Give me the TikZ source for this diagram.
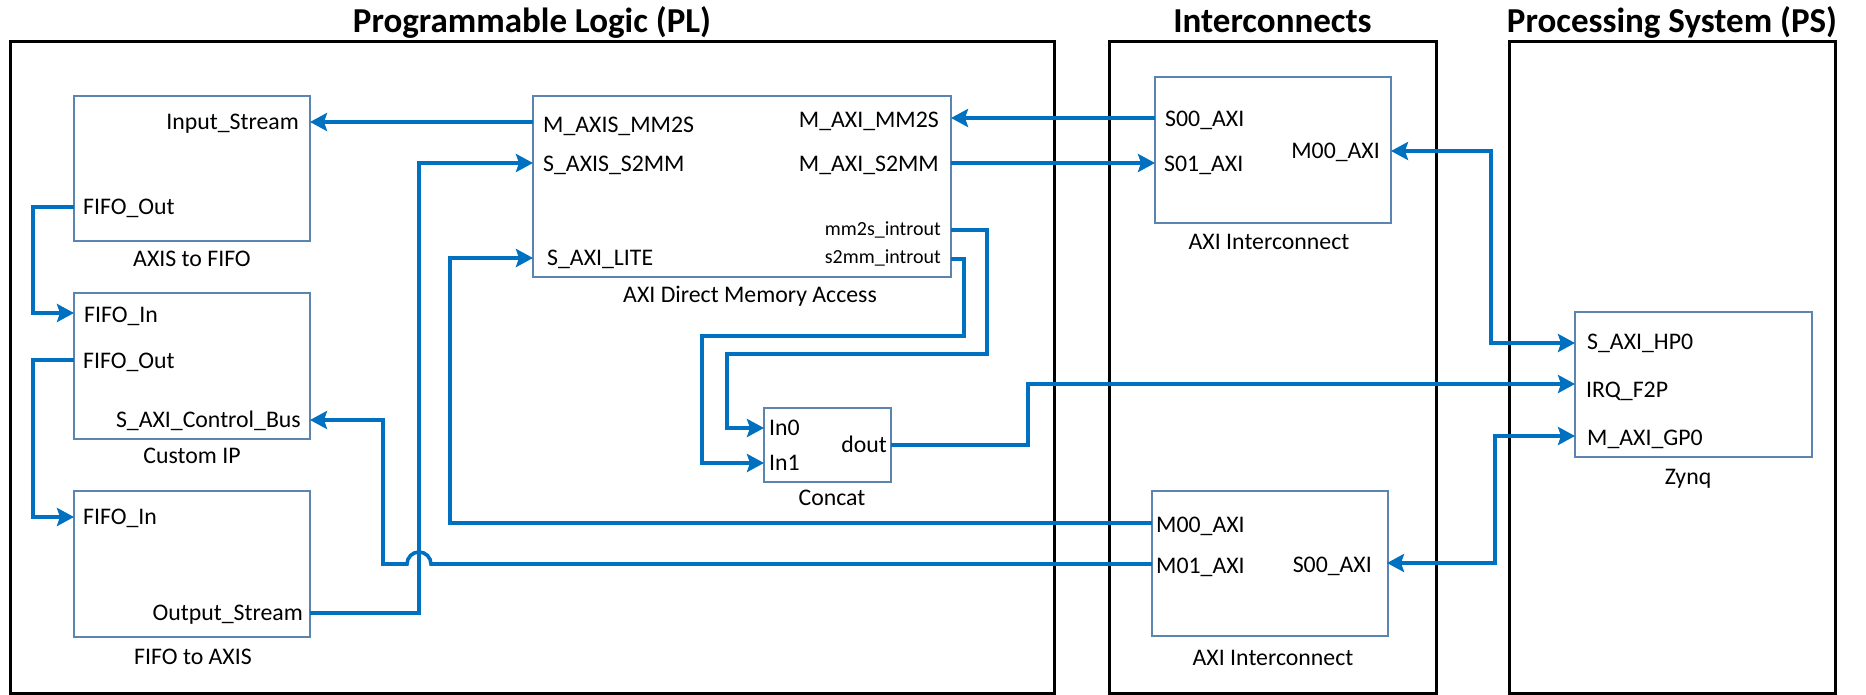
\documentclass[tikz,border=0pt]{standalone}
\usepackage{fontspec}
\setmainfont{Carlito}
\usetikzlibrary{arrows.meta}
\definecolor{wireblue}{HTML}{0070C0}
\definecolor{blockedge}{HTML}{5B84B1}

\begin{document}
\begin{tikzpicture}[x=1pt,y=-1pt,
  regionbox/.style={draw=black,line width=3pt,inner sep=0pt,outer sep=0pt,anchor=north west},
  regiontitle/.style={font=\fontsize{35}{40}\selectfont\bfseries,anchor=base,inner sep=0pt},
  blockbox/.style={draw=blockedge,line width=1.6pt,fill=white,inner sep=0pt,outer sep=0pt,anchor=north west},
  blockcap/.style={font=\fontsize{23.8}{28}\selectfont,anchor=base,inner sep=0pt},
  portleft/.style={font=\fontsize{23.8}{28}\selectfont,anchor=west,inner sep=0pt,text height=15.3pt,text depth=0pt},
  portright/.style={portleft,anchor=east},
  portsmall/.style={portright,font=\fontsize{20}{24}\selectfont,text height=12.9pt},
  wireline/.style={draw=wireblue,line width=3.6pt},
  wirearrow/.style={-{Stealth[length=17pt,width=18pt,inset=3pt]}},
  wirebiarrow/.style={{Stealth[length=17pt,width=18pt,inset=3pt]}-{Stealth[length=17pt,width=18pt,inset=3pt]}},
]
\useasboundingbox (0,0) rectangle (1866,694);

% ---- regions ----
\node[regionbox,minimum width=1044pt,minimum height=652pt] (pl) at (10,41) {};
\node[regionbox,minimum width=327pt,minimum height=652pt] (ic) at (1109,41) {};
\node[regionbox,minimum width=326pt,minimum height=652pt] (ps) at (1509,41) {};
\node[regiontitle] (pl-title) at (532,32) {Programmable Logic (PL)};
\node[regiontitle] (ic-title) at (1272.5,32) {Interconnects};
\node[regiontitle] (ps-title) at (1672,32) {Processing System (PS)};

% ---- blocks ----
\node[blockbox,minimum width=236pt,minimum height=145pt] (a2f) at (74,96) {};
\node[blockbox,minimum width=236pt,minimum height=146pt] (cip) at (74,293) {};
\node[blockbox,minimum width=236pt,minimum height=146pt] (f2a) at (74,491) {};
\node[blockbox,minimum width=418pt,minimum height=181pt] (dma) at (533,96) {};
\node[blockbox,minimum width=127pt,minimum height=74pt] (concat) at (764,408) {};
\node[blockbox,minimum width=236pt,minimum height=146pt] (ic1) at (1155,77) {};
\node[blockbox,minimum width=236pt,minimum height=145pt] (ic2) at (1152,491) {};
\node[blockbox,minimum width=237pt,minimum height=145pt] (zynq) at (1575,312) {};

% ---- block captions ----
\node[blockcap] (a2f-cap) at (192,266) {AXIS to FIFO};
\node[blockcap] (cip-cap) at (192,463) {Custom IP};
\node[blockcap] (f2a-cap) at (193,664) {FIFO to AXIS};
\node[blockcap] (dma-cap) at (750,302) {AXI Direct Memory Access};
\node[blockcap] (concat-cap) at (832,505) {Concat};
\node[blockcap] (ic1-cap) at (1269,249) {AXI Interconnect};
\node[blockcap] (ic2-cap) at (1273,665) {AXI Interconnect};
\node[blockcap] (zynq-cap) at (1688,484) {Zynq};

% ---- port labels ----
\node[portright] (a2f-l1) at (299,122) {Input\_Stream};
\node[portleft]  (a2f-l2) at (83,207) {FIFO\_Out};
\node[portleft]  (cip-l1) at (84,315) {FIFO\_In};
\node[portleft]  (cip-l2) at (83,361) {FIFO\_Out};
\node[portright] (cip-l3) at (301,420) {S\_AXI\_Control\_Bus};
\node[portleft]  (f2a-l1) at (83,517) {FIFO\_In};
\node[portright] (f2a-l2) at (303,613) {Output\_Stream};
\node[portleft]  (dma-l1) at (543,125) {M\_AXIS\_MM2S};
\node[portleft]  (dma-l2) at (543,163.5) {S\_AXIS\_S2MM};
\node[portleft]  (dma-l3) at (547,257.5) {S\_AXI\_LITE};
\node[portright] (dma-l4) at (939,120) {M\_AXI\_MM2S};
\node[portright] (dma-l5) at (939,163.5) {M\_AXI\_S2MM};
\node[portsmall] (dma-l6) at (941,229) {mm2s\_introut};
\node[portsmall] (dma-l7) at (941,257.5) {s2mm\_introut};
\node[portleft]  (concat-l1) at (769,427.5) {In0};
\node[portleft]  (concat-l2) at (769,462.5) {In1};
\node[portright] (concat-l3) at (887,445) {dout};
\node[portleft]  (ic1-l1) at (1165,119) {S00\_AXI};
\node[portleft]  (ic1-l2) at (1164,164) {S01\_AXI};
\node[portright] (ic1-l3) at (1380,150.5) {M00\_AXI};
\node[portleft]  (ic2-l1) at (1156,525) {M00\_AXI};
\node[portleft]  (ic2-l2) at (1156,566) {M01\_AXI};
\node[portright] (ic2-l3) at (1372,565) {S00\_AXI};
\node[portleft]  (zynq-l1) at (1587,342) {S\_AXI\_HP0};
\node[portleft]  (zynq-l2) at (1586,390) {IRQ\_F2P};
\node[portleft]  (zynq-l3) at (1587,437.5) {M\_AXI\_GP0};

% ---- port points on block edges ----
\coordinate (a2f-in)    at (310,122);
\coordinate (a2f-out)   at (74,207);
\coordinate (cip-in)    at (74,313);
\coordinate (cip-out)   at (74,360);
\coordinate (cip-ctl)   at (310,420);
\coordinate (f2a-in)    at (74,517);
\coordinate (f2a-out)   at (310,613);
\coordinate (dma-mm2s)  at (533,122);
\coordinate (dma-s2mm)  at (533,163);
\coordinate (dma-lite)  at (533,258);
\coordinate (dma-rd)    at (951,118);
\coordinate (dma-wr)    at (951,163);
\coordinate (dma-irq0)  at (951,230);
\coordinate (dma-irq1)  at (951,259);
\coordinate (concat-in0) at (764,428);
\coordinate (concat-in1) at (764,463);
\coordinate (concat-out) at (891,445);
\coordinate (ic1-s00)   at (1155,118);
\coordinate (ic1-s01)   at (1155,163);
\coordinate (ic1-m00)   at (1391,151);
\coordinate (ic2-m00)   at (1152,523);
\coordinate (ic2-m01)   at (1152,564);
\coordinate (ic2-s00)   at (1387,563);
\coordinate (zynq-hp0)  at (1575,343);
\coordinate (zynq-irq)  at (1575,384);
\coordinate (zynq-gp0)  at (1575,436);

% ---- connections ----
\draw[wireline,wirearrow] (dma-mm2s) -- (a2f-in);
\draw[wireline,wirearrow] (a2f-out) -- (33,207) -- (33,313) -- (cip-in);
\draw[wireline,wirearrow] (cip-out) -- (33,360) -- (33,517) -- (f2a-in);
\draw[wireline,wirearrow] (f2a-out) -- (419,613) -- (419,163) -- (dma-s2mm);
\draw[wireline,wirearrow] (ic2-m00) -- (450,523) -- (450,258) -- (dma-lite);
\draw[wireline,wirearrow] (ic2-m01) -- (431,564)
  arc[start angle=0,end angle=180,radius=12pt] -- (383,564) -- (383,420) -- (cip-ctl);
\draw[wireline,wirearrow] (ic1-s00) -- (dma-rd);
\draw[wireline,wirearrow] (dma-wr) -- (ic1-s01);
\draw[wireline,wirearrow] (dma-irq0) -- (987,230) -- (987,354) -- (727,354) -- (727,428) -- (concat-in0);
\draw[wireline,wirearrow] (dma-irq1) -- (964,259) -- (964,336) -- (702,336) -- (702,463) -- (concat-in1);
\draw[wireline,wirearrow] (concat-out) -- (1028,445) -- (1028,384) -- (zynq-irq);
\draw[wireline,wirebiarrow] (ic1-m00) -- (1491,151) -- (1491,343) -- (zynq-hp0);
\draw[wireline,wirebiarrow] (ic2-s00) -- (1495,563) -- (1495,436) -- (zynq-gp0);
\end{tikzpicture}
\end{document}
